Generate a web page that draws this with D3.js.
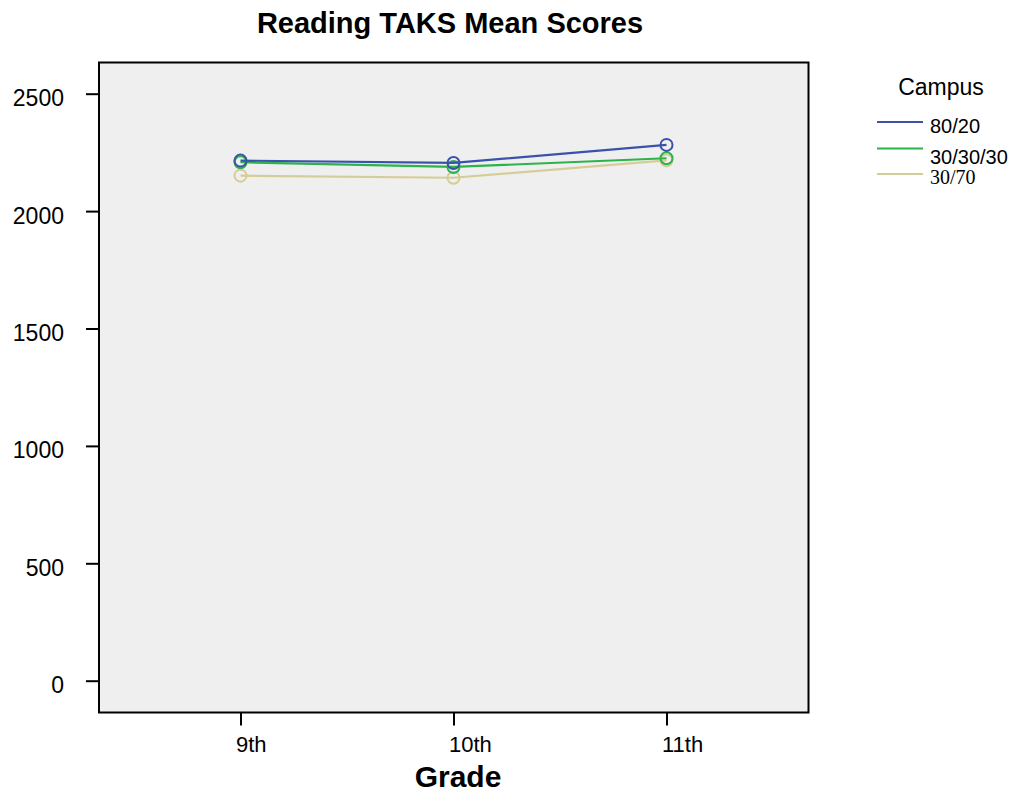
<!DOCTYPE html>
<html><head><meta charset="utf-8">
<script src="https://cdn.jsdelivr.net/npm/d3@7"></script>
<style>body{margin:0;background:#fff;} svg{display:block;}</style>
</head><body>
<script>
const grades = ["9th","10th","11th"];
const campuses = ["80/20","30/30/30","30/70"];
const colors = ["#3b52ad","#2bb44a","#d5cd98"];
const scores8020 = [2215, 2205, 2282];
const scores303030 = [2208, 2188, 2225];
const scores3070 = [2151, 2142, 2216];
const yTicks = [0,500,1000,1500,2000,2500];
const seriesVals = [scores8020, scores303030, scores3070];

const W=1014,H=794;
const L=99,R=808.5,T=62.5,B=712.5;
const svg=d3.select("body").append("svg").attr("width",W).attr("height",H);
const font="Liberation Sans, Arial, sans-serif";

const x=d3.scalePoint().domain(grades).range([240.5,666.5]);
const y=d3.scaleLinear().domain([0,2500]).range([680.7,93.7]);

svg.append("rect").attr("x",L).attr("y",T).attr("width",R-L).attr("height",B-T)
  .attr("fill","#efefef").attr("stroke","#000").attr("stroke-width",2);

const yAx=svg.append("g").attr("transform",`translate(${L},0)`)
  .call(d3.axisLeft(y).tickValues(yTicks).tickSize(13).tickPadding(22).tickFormat(d3.format("d")));
yAx.select(".domain").remove();
yAx.selectAll("line").attr("stroke","#000").attr("stroke-width",2);
yAx.selectAll("text").attr("font-family",font).attr("font-size",23).attr("fill","#000").attr("dy","0.52em");

const xAx=svg.append("g").attr("transform",`translate(0,${B})`)
  .call(d3.axisBottom(x).tickSize(13).tickPadding(0));
xAx.select(".domain").remove();
xAx.selectAll("line").attr("stroke","#000").attr("stroke-width",2);
xAx.selectAll("text").attr("font-family",font).attr("font-size",22).attr("fill","#000")
  .attr("text-anchor","start").attr("x",-5).attr("y",39).attr("dy",0);

const line=d3.line().x((d,i)=>x(grades[i])).y(d=>y(d));
[2,1,0].forEach(s=>{
  svg.append("path").attr("d",line(seriesVals[s])).attr("fill","none")
    .attr("stroke",colors[s]).attr("stroke-width",2.2);
  svg.selectAll(null).data(seriesVals[s]).enter().append("circle")
    .attr("cx",(d,i)=>x(grades[i])).attr("cy",d=>y(d)).attr("r",6)
    .attr("fill","none").attr("stroke",colors[s]).attr("stroke-width",2);
});

svg.append("text").attr("x",450).attr("y",32.5).attr("text-anchor","middle")
  .attr("font-family",font).attr("font-weight","bold").attr("font-size",29).text("Reading TAKS Mean Scores");
svg.append("text").attr("x",458).attr("y",787).attr("text-anchor","middle")
  .attr("font-family",font).attr("font-weight","bold").attr("font-size",30).text("Grade");

// legend
svg.append("text").attr("x",941).attr("y",95).attr("text-anchor","middle")
  .attr("font-family",font).attr("font-size",23).text("Campus");
const legLineY=[122,148.5,174];
const legTextY=[133,164,184];
campuses.forEach((c,i)=>{
  svg.append("line").attr("x1",877).attr("x2",923).attr("y1",legLineY[i]).attr("y2",legLineY[i])
    .attr("stroke",colors[i]).attr("stroke-width",2);
  svg.append("text").attr("x",930).attr("y",legTextY[i])
    .attr("font-family",i==2?"Liberation Serif, Times New Roman, serif":font)
    .attr("font-size",i==2?20:20).text(c);
});
</script>
</body></html>
